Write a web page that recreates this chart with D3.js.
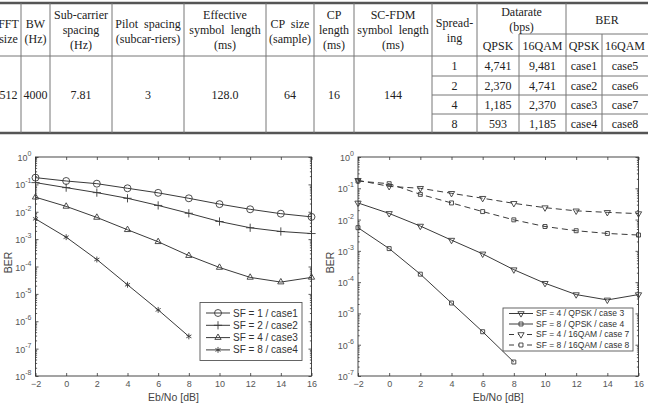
<!DOCTYPE html>
<html>
<head>
<meta charset="utf-8">
<script src="https://cdn.jsdelivr.net/npm/d3@7"></script>
<style>
  body { margin: 0; background: #fff; }
  svg { display: block; }
  .cell { font-family: "Liberation Serif", serif; font-size: 12px; fill: #222; }
  .tick text { font-family: "Liberation Sans", Arial, sans-serif; font-size: 9px; fill: #555; }
  .ylab { font-family: "Liberation Sans", Arial, sans-serif; font-size: 9px; fill: #555; }
  .axis-label { font-family: "Liberation Sans", Arial, sans-serif; font-size: 10.5px; fill: #444; }
</style>
</head>
<body>
<svg width="648" height="404"></svg>
<script>
// ---- table data ----
const fixedParams = ['512', '4000', '7.81', '3', '128.0', '64', '16', '144'];
const fixedHeaders = [
  ['FFT', 'size'], ['BW', '(Hz)'], ['Sub-carrier', 'spacing', '(Hz)'],
  ['Pilot  spacing', '(subcar-riers)'], ['Effective', 'symbol  length', '(ms)'],
  ['CP  size', '(sample)'], ['CP', 'length', '(ms)'], ['SC-FDM', 'symbol  length', '(ms)']
];
const spreading = ['1', '2', '4', '8'];
const rateQPSK = ['4,741', '2,370', '1,185', '593'];
const rate16QAM = ['9,481', '4,741', '2,370', '1,185'];
const berQPSK = ['case1', 'case2', 'case3', 'case4'];
const ber16QAM = ['case5', 'case6', 'case7', 'case8'];

// ---- chart data ----
const ebno = [-2, 0, 2, 4, 6, 8, 10, 12, 14, 16];
const ebnoShort = [-2, 0, 2, 4, 6, 8];
const berCase1 = [0.176, 0.133, 0.106, 0.072, 0.049, 0.031, 0.019, 0.0123, 0.0085, 0.0065];
const berCase2 = [0.116, 0.076, 0.050, 0.031, 0.017, 0.0088, 0.0044, 0.0026, 0.0019, 0.0016];
const berCase3 = [0.034, 0.0157, 0.0062, 0.0022, 0.0008, 0.00025, 0.000092, 0.00004, 0.000027, 0.00004];
const berCase4 = [0.0055, 0.00118, 0.00018, 0.0000215, 0.0000026, 0.00000028];
const berCase7 = [0.18, 0.115, 0.10, 0.069, 0.048, 0.033, 0.024, 0.019, 0.017, 0.0155];
const berCase8 = [0.17, 0.14, 0.064, 0.034, 0.018, 0.0098, 0.006, 0.0044, 0.0036, 0.0032];
const xTicks = [-2, 0, 2, 4, 6, 8, 10, 12, 14, 16];
const legendLeft = ['SF = 1 / case1', 'SF = 2 / case2', 'SF = 4 / case3', 'SF = 8 / case4'];
const legendRight = ['SF = 4 / QPSK / case 3', 'SF = 8 / QPSK / case 4',
  'SF = 4 / 16QAM / case 7', 'SF = 8 / 16QAM / case 8'];

const svg = d3.select('svg');
const ink = '#3a3a3a';

/**
 * Table
 */
const drawTable = () => {
  const g = svg.append('g').attr('class', 'table');
  const colX = [-4, 21, 50, 112, 184, 266, 314, 354, 432, 477, 519, 566, 602, 648];
  const top = 3, headBottom = 56, subHead = 34, bottom = 133;
  const rowY = [56, 76, 95, 114, 133];
  const lineColor = '#777';

  const hline = (x1, x2, y, w, c) => g.append('line')
    .attr('x1', x1).attr('x2', x2).attr('y1', y).attr('y2', y)
    .attr('stroke', c || lineColor).attr('stroke-width', w || 1);
  const vline = (x, y1, y2) => g.append('line')
    .attr('x1', x).attr('x2', x).attr('y1', y1).attr('y2', y2)
    .attr('stroke', lineColor).attr('stroke-width', 1);

  hline(0, 648, top, 2.5, '#555');
  hline(0, 648, bottom, 2.5, '#555');
  hline(0, 648, headBottom, 1);
  hline(colX[10], 648, subHead, 1);
  rowY.slice(1, 4).forEach(y => hline(colX[8], 648, y, 1));
  [1, 2, 3, 4, 5, 6, 7, 8, 9, 11].forEach(i => vline(colX[i], top, bottom));
  [10, 12].forEach(i => vline(colX[i], subHead, bottom));

  const textLines = (cx, cy, lines) => {
    const lh = 15;
    const y0 = cy - (lines.length - 1) * lh / 2;
    lines.forEach((t, i) => {
      g.append('text').attr('class', 'cell')
        .attr('x', cx).attr('y', y0 + i * lh)
        .attr('dy', '0.35em').attr('text-anchor', 'middle')
        .attr('xml:space', 'preserve')
        .text(t);
    });
  };

  fixedHeaders.forEach((h, i) => {
    const cx = (colX[i] + colX[i + 1]) / 2;
    textLines(cx, h.length === 3 ? 30 : 31, h);
    textLines(cx, (headBottom + bottom) / 2, [fixedParams[i]]);
  });
  textLines((colX[8] + colX[9]) / 2, 30, ['Spread-', 'ing']);
  textLines((colX[9] + colX[11]) / 2, 19, ['Datarate', '(bps)']);
  textLines((colX[11] + colX[13]) / 2, 20, ['BER']);
  ['QPSK', '16QAM', 'QPSK', '16QAM'].forEach((t, i) => {
    textLines((colX[9 + i] + colX[10 + i]) / 2, 46, [t]);
  });
  const cols = [spreading, rateQPSK, rate16QAM, berQPSK, ber16QAM];
  cols.forEach((col, c) => {
    col.forEach((v, r) => {
      textLines((colX[8 + c] + colX[9 + c]) / 2, (rowY[r] + rowY[r + 1]) / 2, [v]);
    });
  });
};

/**
 * BER chart
 */
const markerPath = (type, size) => {
  if (type === 'circle') return d3.symbol(d3.symbolCircle, size)();
  if (type === 'plus') return d3.symbol(d3.symbolPlus, size)();
  if (type === 'triangle') return d3.symbol(d3.symbolTriangle2, size)();
  if (type === 'triangleDown') return d3.symbol(d3.symbolTriangle2, size)();
  if (type === 'square') return d3.symbol(d3.symbolSquare2, size)();
  if (type === 'star') return d3.symbol(d3.symbolAsterisk, size)();
};

const drawChart = (props) => {
  const { left, right, top, bottom, yMin, series, legend, legendFont } = props;
  const g = svg.append('g');

  const xScale = d3.scaleLinear().domain([-2, 16]).range([left, right]);
  const yScale = d3.scaleLog().domain([yMin, 1]).range([bottom, top]);

  const decades = d3.range(Math.round(Math.log10(yMin)), 1).map(e => Math.pow(10, e));
  const minors = [];
  decades.slice(0, -1).forEach(d => {
    for (let k = 2; k <= 9; k++) minors.push(d * k);
  });

  // box
  g.append('rect')
    .attr('x', left).attr('y', top)
    .attr('width', right - left).attr('height', bottom - top)
    .attr('fill', 'none').attr('stroke', '#333').attr('stroke-width', 0.9);

  const axisStyle = sel => {
    sel.selectAll('.domain').remove();
    sel.selectAll('.tick line').attr('stroke', '#333').attr('stroke-width', 0.8);
  };

  g.append('g').attr('transform', `translate(0,${bottom})`)
    .call(d3.axisBottom(xScale).tickValues(xTicks).tickSize(-3).tickPadding(5)
      .tickFormat(d3.format('d')))
    .call(axisStyle);
  g.append('g').attr('transform', `translate(0,${top})`)
    .call(d3.axisTop(xScale).tickValues(xTicks).tickSize(-3).tickFormat(''))
    .call(axisStyle);
  g.append('g').attr('transform', `translate(${left},0)`)
    .call(d3.axisLeft(yScale).tickValues(decades).tickSize(-3).tickFormat(''))
    .call(axisStyle);
  g.append('g').attr('transform', `translate(${right},0)`)
    .call(d3.axisRight(yScale).tickValues(decades).tickSize(-3).tickFormat(''))
    .call(axisStyle);
  g.append('g').attr('transform', `translate(${left},0)`)
    .call(d3.axisLeft(yScale).tickValues(minors).tickSize(-1.6).tickFormat(''))
    .call(axisStyle);
  g.append('g').attr('transform', `translate(${right},0)`)
    .call(d3.axisRight(yScale).tickValues(minors).tickSize(-1.6).tickFormat(''))
    .call(axisStyle);

  // y tick labels 10^n
  decades.forEach(d => {
    const t = g.append('text').attr('class', 'ylab')
      .attr('x', left - 4).attr('y', yScale(d) + 4)
      .attr('text-anchor', 'end');
    t.append('tspan').text('10');
    t.append('tspan').attr('dy', -5).attr('font-size', '7px')
      .text(Math.round(Math.log10(d)));
  });

  g.append('text').attr('class', 'axis-label')
    .attr('text-anchor', 'middle')
    .attr('transform', `translate(${left - 24},${(top + bottom) / 2 - 4}) rotate(-90)`)
    .text('BER');
  g.append('text').attr('class', 'axis-label')
    .attr('x', (left + right) / 2).attr('y', 401)
    .attr('text-anchor', 'middle')
    .text('Eb/No [dB]');

  // series
  const line = d3.line().x(d => xScale(d[0])).y(d => yScale(d[1]));
  series.forEach(s => {
    const pts = s.x.map((v, i) => [v, s.y[i]]);
    g.append('path').datum(pts)
      .attr('d', line)
      .attr('fill', 'none').attr('stroke', ink).attr('stroke-width', 1)
      .attr('stroke-dasharray', s.dash ? '6,4' : null);
    g.selectAll(null).data(pts).enter().append('path')
      .attr('d', markerPath(s.marker, s.size))
      .attr('transform', d => `translate(${xScale(d[0])},${yScale(d[1])})` +
        (s.marker === 'triangleDown' ? ' rotate(180)' : ''))
      .attr('fill', 'none').attr('stroke', ink).attr('stroke-width', 0.9);
  });

  // legend
  const lg = g.append('g');
  lg.append('rect')
    .attr('x', legend.x).attr('y', legend.y)
    .attr('width', legend.w).attr('height', legend.h)
    .attr('fill', '#fff').attr('stroke', '#555').attr('stroke-width', 0.9);
  legend.labels.forEach((lab, i) => {
    const s = series[i];
    const y = legend.y + legend.pad + i * legend.step;
    const x0 = legend.x + 6, x1 = x0 + legend.sample;
    lg.append('line').attr('x1', x0).attr('x2', x1).attr('y1', y).attr('y2', y)
      .attr('stroke', ink).attr('stroke-width', 1)
      .attr('stroke-dasharray', s.dash ? '5,4' : null);
    lg.append('path').attr('d', markerPath(s.marker, s.size))
      .attr('transform', `translate(${(x0 + x1) / 2},${y})` +
        (s.marker === 'triangleDown' ? ' rotate(180)' : ''))
      .attr('fill', s.dash ? '#fff' : 'none').attr('stroke', ink).attr('stroke-width', 0.9);
    lg.append('text')
      .attr('x', x1 + 3).attr('y', y).attr('dy', '0.35em')
      .attr('font-family', '"Liberation Sans", Arial, sans-serif')
      .attr('font-size', legendFont).attr('fill', '#333')
      .text(lab);
  });
};

drawTable();

drawChart({
  left: 35.5, right: 311.5, top: 157, bottom: 376, yMin: 1e-8,
  series: [
    { x: ebno, y: berCase1, marker: 'circle', size: 38 },
    { x: ebno, y: berCase2, marker: 'plus', size: 24 },
    { x: ebno, y: berCase3, marker: 'triangle', size: 28 },
    { x: ebnoShort, y: berCase4, marker: 'star', size: 24 }
  ],
  legend: { x: 200, y: 302.5, w: 102, h: 58, pad: 10.5, step: 12.3, sample: 24, labels: legendLeft },
  legendFont: '10px'
});

drawChart({
  left: 358, right: 638.5, top: 157, bottom: 376, yMin: 1e-7,
  series: [
    { x: ebno, y: berCase3, marker: 'triangleDown', size: 28 },
    { x: ebnoShort, y: berCase4, marker: 'square', size: 20 },
    { x: ebno, y: berCase7, marker: 'triangleDown', size: 28, dash: true },
    { x: ebno, y: berCase8, marker: 'square', size: 20, dash: true }
  ],
  legend: { x: 503, y: 308, w: 130, h: 43, pad: 5.5, step: 10.5, sample: 24, labels: legendRight },
  legendFont: '8.5px'
});
</script>
</body>
</html>
